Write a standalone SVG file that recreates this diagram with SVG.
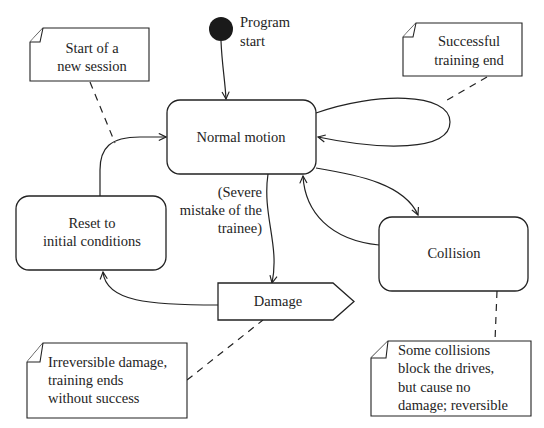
<svg xmlns="http://www.w3.org/2000/svg" width="544" height="428" viewBox="0 0 544 428">
<style>
text{font-family:"Liberation Serif","DejaVu Serif",serif;font-size:14.5px;fill:#1e1e24}
.c{text-anchor:middle}
.r{text-anchor:end}
.box{fill:#fff;stroke:#222;stroke-width:1.3}
.note{fill:#fff;stroke:#222;stroke-width:1.1}
.edge{fill:none;stroke:#222;stroke-width:1.2;marker-end:url(#ah)}
.dash{fill:none;stroke:#222;stroke-width:1.2;stroke-dasharray:7,6}
</style>
<defs>
<marker id="ah" viewBox="0 0 10 10" refX="9" refY="5" markerWidth="9" markerHeight="9" markerUnits="userSpaceOnUse" orient="auto">
<path d="M1,1 L9,5 L1,9" fill="none" stroke="#222" stroke-width="1.3"/>
</marker>
</defs>
<rect width="544" height="428" fill="#fff"/>
<g id="connectors">
<path class="edge" d="M221,41 C222,65 225,80 226,99"/>
<path class="edge" d="M316,113 C375,92 450,92 450,122 C450,152 380,150 318,137"/>
<path class="edge" d="M316,168 C360,175 405,185 418,215"/>
<path class="edge" d="M379,245 C330,240 305,212 303,176"/>
<path class="edge" d="M268,174 C262,215 280,245 272,283"/>
<path class="edge" d="M218,305 C150,305 106,302 103,272"/>
<path class="edge" d="M100,196 L100,170 C100,148 110,137 140,137 L166,137"/>
<path class="dash" d="M90,82 L115,143"/>
<path class="dash" d="M487,77 L442,103"/>
<path class="dash" d="M187,380 L263,320"/>
<path class="dash" d="M497,291 L495,341"/>
</g>
<g id="start">
<circle cx="221" cy="29" r="12" fill="#1a1a1a"/>
<text x="240" y="27">Program</text>
<text x="240" y="46">start</text>
</g>
<g id="normal">
<rect class="box" x="167" y="100" width="149" height="74" rx="13"/>
<text class="c" x="241" y="142">Normal motion</text>
</g>
<g id="collision">
<rect class="box" x="379" y="217" width="149" height="74" rx="13"/>
<text class="c" x="454" y="258">Collision</text>
</g>
<g id="reset">
<rect class="box" x="16" y="196" width="150" height="74" rx="13"/>
<text class="c" x="92" y="228">Reset to</text>
<text class="c" x="92" y="246">initial conditions</text>
</g>
<g id="damage">
<path class="box" d="M218,283 L333,283 L354,301.5 L333,320 L218,320 Z"/>
<text class="c" x="278" y="306">Damage</text>
</g>
<g id="severe-label">
<text class="r" x="262" y="197">(Severe</text>
<text class="r" x="262" y="215">mistake of the</text>
<text class="r" x="262" y="233">trainee)</text>
</g>
<g id="note-start">
<path class="note" d="M30,42 L43,28 L149,28 L149,81 L30,81 Z"/>
<path class="note" d="M43,28 L40,42 L30,42" fill="none"/>
<text class="c" x="92" y="53">Start of a</text>
<text class="c" x="92" y="71">new session</text>
</g>
<g id="note-success">
<path class="note" d="M403,37 L416,23 L522,23 L522,76 L403,76 Z"/>
<path class="note" d="M416,23 L413,37 L403,37" fill="none"/>
<text class="c" x="469" y="46">Successful</text>
<text class="c" x="469" y="65">training end</text>
</g>
<g id="note-irreversible">
<path class="note" d="M27,362 L43,343 L187,343 L187,418 L27,418 Z"/>
<path class="note" d="M43,343 L40,362 L27,362" fill="none"/>
<text x="48" y="367">Irreversible damage,</text>
<text x="48" y="385">training ends</text>
<text x="48" y="403">without success</text>
</g>
<g id="note-collision">
<path class="note" d="M371,358 L388,341 L531,341 L531,416 L371,416 Z"/>
<path class="note" d="M388,341 L386,358 L371,358" fill="none"/>
<text x="398" y="355">Some collisions</text>
<text x="398" y="373">block the drives,</text>
<text x="398" y="392">but cause no</text>
<text x="398" y="410">damage; reversible</text>
</g>
</svg>
